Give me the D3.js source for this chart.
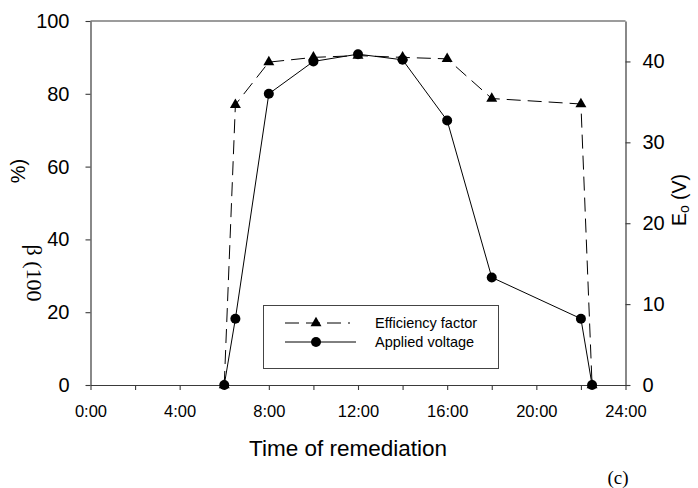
<!DOCTYPE html>
<html>
<head>
<meta charset="utf-8">
<script src="https://cdn.jsdelivr.net/npm/d3@7"></script>
<style>
  html, body { margin: 0; padding: 0; background: #fff; }
  svg { display: block; }
  text { font-family: "Liberation Sans", Arial, sans-serif; fill: #000; }
</style>
</head>
<body>
<svg id="chart" width="698" height="488"></svg>
<script>
// ---- data ----
const hours = [6, 6.5, 8, 10, 12, 14, 16, 18, 22, 22.5];
const efficiency = [0, 77, 88.7, 90, 90.5, 90, 89.6, 78.7, 77.2, 0];   // % (left axis)
const voltage = [0, 8.2, 36.0, 40.0, 40.9, 40.2, 32.7, 13.3, 8.2, 0];   // V (right axis)
const xTickHours = [0, 2, 4, 6, 8, 10, 12, 14, 16, 18, 20, 22, 24];
const xTickLabels = ["0:00", "", "4:00", "", "8:00", "", "12:00", "", "16:00", "", "20:00", "", "24:00"];
const leftTicks = [0, 20, 40, 60, 80, 100];
const rightTicks = [0, 10, 20, 30, 40];
const seriesNames = ["Efficiency factor", "Applied voltage"];

// ---- layout ----
const svg = d3.select("#chart");
const L = 90.5, R = 625.5, T = 21, B = 385;
const axisColor = "#3a3a3a";

const x = d3.scaleLinear().domain([0, 24]).range([L, R]);
const yL = d3.scaleLinear().domain([0, 100]).range([B, T]);
const yR = d3.scaleLinear().domain([0, 45]).range([B, T]);

// top frame line
svg.append("line").attr("x1", L).attr("x2", R).attr("y1", T).attr("y2", T)
  .attr("stroke", axisColor).attr("stroke-width", 1.2);

// x axis
const xAxis = svg.append("g").attr("transform", `translate(0,${B})`)
  .call(d3.axisBottom(x).tickValues(xTickHours).tickSize(5).tickSizeOuter(0)
    .tickFormat((d, i) => xTickLabels[i]));
xAxis.selectAll("text").attr("font-size", 16.5).attr("dy", "1.45em")
  .style("font-family", "Liberation Sans, Arial, sans-serif").attr("fill", "#000");

// left axis
const lAxis = svg.append("g").attr("transform", `translate(${L},0)`)
  .call(d3.axisLeft(yL).tickValues(leftTicks).tickSize(5).tickSizeOuter(0));
lAxis.selectAll("text").attr("font-size", 20).attr("x", -21)
  .style("font-family", "Liberation Sans, Arial, sans-serif").attr("fill", "#000");

// right axis
const rAxis = svg.append("g").attr("transform", `translate(${R},0)`)
  .call(d3.axisRight(yR).tickValues(rightTicks).tickSize(5).tickSizeOuter(0));
rAxis.selectAll("text").attr("font-size", 20).attr("x", 17)
  .style("font-family", "Liberation Sans, Arial, sans-serif").attr("fill", "#000");

[xAxis, lAxis, rAxis].forEach(g => {
  g.selectAll("path.domain").attr("stroke", axisColor).attr("stroke-width", 1.2);
  g.selectAll(".tick line").attr("stroke", axisColor).attr("stroke-width", 1.1);
});

// axis titles
svg.append("text").attr("x", 348).attr("y", 456).attr("text-anchor", "middle")
  .attr("font-size", 22.5).text("Time of remediation");

svg.append("text").attr("transform", "translate(25,171) rotate(-90)")
  .attr("text-anchor", "middle").attr("font-size", 20).text("%)");
svg.append("text").attr("transform", "translate(27,273) rotate(90)")
  .attr("text-anchor", "middle").attr("font-size", 22)
  .style("font-family", "Liberation Serif, Times New Roman, serif").text("β (100");

const eTitle = svg.append("text").attr("transform", "translate(686,200) rotate(-90)")
  .attr("text-anchor", "middle").attr("font-size", 19.5);
eTitle.append("tspan").text("E");
eTitle.append("tspan").attr("font-size", 14).attr("dy", 3).text("o");
eTitle.append("tspan").attr("dy", -3).text(" (V)");

svg.append("text").attr("x", 618).attr("y", 484).attr("text-anchor", "middle")
  .attr("font-size", 19).style("font-family", "Liberation Serif, Cambria, serif").text("(c)");

// ---- series ----
const effPts = hours.map((h, i) => [h, efficiency[i]]);
const volPts = hours.map((h, i) => [h, voltage[i]]);

const lineL = d3.line().x(d => x(d[0])).y(d => yL(d[1]));
const lineR = d3.line().x(d => x(d[0])).y(d => yR(d[1]));

svg.append("path").attr("d", lineL(effPts)).attr("fill", "none")
  .attr("stroke", "#000").attr("stroke-width", 1).attr("stroke-dasharray", "14,7");
svg.append("path").attr("d", lineR(volPts)).attr("fill", "none")
  .attr("stroke", "#000").attr("stroke-width", 1);

const tri = d3.symbol().type(d3.symbolTriangle).size(52);
svg.selectAll("path.tri").data(effPts).enter().append("path").attr("class", "tri")
  .attr("d", tri).attr("transform", d => `translate(${x(d[0])},${yL(d[1])})`)
  .attr("fill", "#000");
svg.selectAll("circle.dot").data(volPts).enter().append("circle").attr("class", "dot")
  .attr("cx", d => x(d[0])).attr("cy", d => yR(d[1])).attr("r", 5).attr("fill", "#000");

// ---- legend ----
const lg = svg.append("g");
lg.append("rect").attr("x", 263.5).attr("y", 305.5).attr("width", 235).attr("height", 63)
  .attr("fill", "#fff").attr("stroke", "#444").attr("stroke-width", 1);
const rows = [323, 342];
lg.append("line").attr("x1", 285).attr("x2", 350).attr("y1", rows[0]).attr("y2", rows[0])
  .attr("stroke", "#000").attr("stroke-dasharray", "14,7");
lg.append("path").attr("d", tri).attr("transform", `translate(316,${rows[0]})`).attr("fill", "#000");
lg.append("line").attr("x1", 285).attr("x2", 356).attr("y1", rows[1]).attr("y2", rows[1])
  .attr("stroke", "#000");
lg.append("circle").attr("cx", 316).attr("cy", rows[1]).attr("r", 5).attr("fill", "#000");
seriesNames.forEach((n, i) => {
  lg.append("text").attr("x", 375).attr("y", rows[i]).attr("dy", "0.35em")
    .attr("font-size", 14.5).text(n);
});
</script>
</body>
</html>
